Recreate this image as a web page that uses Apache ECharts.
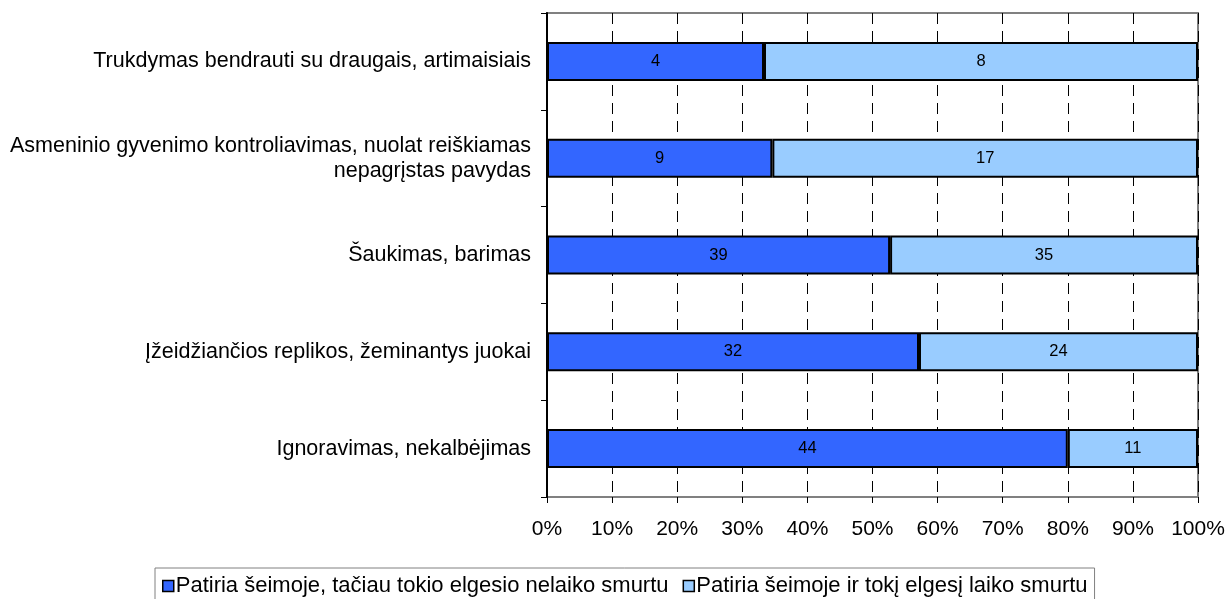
<!DOCTYPE html>
<html>
<head>
<meta charset="utf-8">
<script src="https://cdn.jsdelivr.net/npm/echarts@6/dist/echarts.min.js"></script>
<style>
html, body { margin: 0; padding: 0; background: #fff; }
#main { width: 1228px; height: 599px; }
</style>
</head>
<body>
<div id="main"></div>
<script>
var categories = [
    'Trukdymas bendrauti su draugais, artimaisiais',
    'Asmeninio gyvenimo kontroliavimas, nuolat reiškiamas\nnepagrįstas pavydas',
    'Šaukimas, barimas',
    'Įžeidžiančios replikos, žeminantys juokai',
    'Ignoravimas, nekalbėjimas'
];
var notViolence = [4, 9, 39, 32, 44];
var isViolence = [8, 17, 35, 24, 11];
var seriesNames = [
    'Patiria šeimoje, tačiau tokio elgesio nelaiko smurtu',
    'Patiria šeimoje ir tokį elgesį laiko smurtu'
];

// bars are drawn as share of row total, labels show the raw counts
function share(a, b, i) {
    return { value: a[i] / (a[i] + b[i]) * 100, raw: a[i] };
}
var d1 = notViolence.map(function (v, i) { return share(notViolence, isViolence, i); });
var d2 = isViolence.map(function (v, i) { return share(isViolence, notViolence, i); });

var myChart = echarts.init(document.getElementById('main'));
var font = 'Liberation Sans, Arial, sans-serif';
option = {
    animation: false,
    textStyle: { fontFamily: font },
    grid: {
        left: 547, right: 30, top: 13, bottom: 102,
        show: true, borderColor: '#808080', borderWidth: 2
    },
    legend: {
        top: 568,
        left: 155,
        icon: 'rect',
        itemWidth: 11,
        itemHeight: 11,
        itemGap: 14,
        padding: [7, 7, 10, 7],
        borderColor: '#808080',
        borderWidth: 1,
        textStyle: { fontSize: 22, color: '#000', fontFamily: font, padding: [0, 0, 0, -3] },
        data: [
            { name: seriesNames[0], itemStyle: { borderColor: '#000', borderWidth: 1.5 } },
            { name: seriesNames[1], itemStyle: { borderColor: '#000', borderWidth: 1.5 } }
        ]
    },
    xAxis: {
        type: 'value',
        min: 0,
        max: 100,
        interval: 10,
        axisLine: { show: false },
        axisTick: { show: true, length: 6, lineStyle: { color: '#000', width: 1 } },
        axisLabel: {
            formatter: '{value}%', fontSize: 21, color: '#000', margin: 22, fontFamily: font
        },
        splitLine: {
            show: true,
            lineStyle: { color: '#000', type: [11, 7], width: 1 }
        }
    },
    yAxis: {
        type: 'category',
        inverse: true,
        data: categories,
        axisLine: { show: true, lineStyle: { color: '#000', width: 2 } },
        axisTick: { show: true, length: 6, lineStyle: { color: '#000', width: 1 } },
        axisLabel: { fontSize: 21.5, color: '#000', margin: 16, lineHeight: 25, fontFamily: font }
    },
    series: [
        {
            name: seriesNames[0],
            type: 'bar',
            stack: 'total',
            barWidth: 39,
            data: d1,
            itemStyle: { color: '#3366FF', borderColor: '#000', borderWidth: 2 },
            label: {
                show: true, position: 'inside', color: '#000', fontSize: 16.5, fontFamily: font,
                formatter: function (p) { return p.data.raw; }
            }
        },
        {
            name: seriesNames[1],
            type: 'bar',
            stack: 'total',
            barWidth: 39,
            data: d2,
            itemStyle: { color: '#99CCFF', borderColor: '#000', borderWidth: 2 },
            label: {
                show: true, position: 'inside', color: '#000', fontSize: 16.5, fontFamily: font,
                formatter: function (p) { return p.data.raw; }
            }
        }
    ]
};
myChart.setOption(option);
</script>
</body>
</html>
